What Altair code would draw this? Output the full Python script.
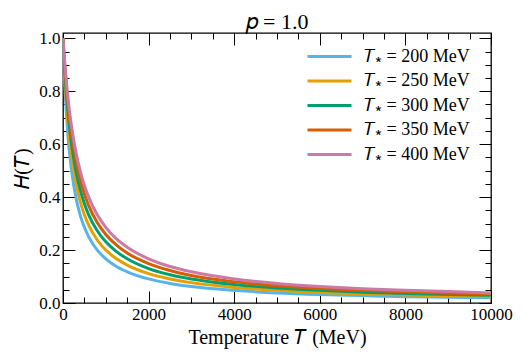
import altair as alt
import pandas as pd

# ---- data ----
temperature = [0, 25, 50, 100, 150, 200, 300, 400, 500, 600, 800, 1000, 1250,
               1500, 2000, 2500, 3000, 4000, 5000, 6000, 7000, 8000, 9000, 10000]
h_200 = [1.0, 0.889, 0.800, 0.667, 0.571, 0.500, 0.400, 0.333, 0.286, 0.250, 0.200, 0.167,
         0.138, 0.118, 0.091, 0.074, 0.0625, 0.048, 0.038, 0.032, 0.028, 0.024, 0.022, 0.0196]
h_250 = [1.0, 0.909, 0.833, 0.714, 0.625, 0.556, 0.455, 0.385, 0.333, 0.294, 0.238, 0.200,
         0.167, 0.143, 0.111, 0.091, 0.077, 0.059, 0.048, 0.040, 0.034, 0.030, 0.027, 0.024]
h_300 = [1.0, 0.923, 0.857, 0.750, 0.667, 0.600, 0.500, 0.429, 0.375, 0.333, 0.273, 0.231,
         0.194, 0.167, 0.130, 0.107, 0.091, 0.070, 0.057, 0.048, 0.041, 0.036, 0.032, 0.029]
h_350 = [1.0, 0.933, 0.875, 0.778, 0.700, 0.636, 0.538, 0.467, 0.412, 0.368, 0.304, 0.259,
         0.219, 0.189, 0.149, 0.123, 0.104, 0.080, 0.065, 0.055, 0.048, 0.042, 0.037, 0.034]
h_400 = [1.0, 0.941, 0.889, 0.800, 0.727, 0.667, 0.571, 0.500, 0.444, 0.400, 0.333, 0.286,
         0.242, 0.211, 0.167, 0.138, 0.118, 0.091, 0.074, 0.0625, 0.054, 0.048, 0.043, 0.038]

series_labels = ["𝑇⁎ = 200 MeV", "𝑇⁎ = 250 MeV", "𝑇⁎ = 300 MeV",
                 "𝑇⁎ = 350 MeV", "𝑇⁎ = 400 MeV"]
series_values = [h_200, h_250, h_300, h_350, h_400]
colors = ["#56B4E9", "#E69F00", "#009E73", "#D55E00", "#CC79A7"]

x_major = [0, 2000, 4000, 6000, 8000, 10000]
x_minor = list(range(0, 10001, 500))
y_major = [0.0, 0.2, 0.4, 0.6, 0.8, 1.0]
y_minor = [round(i * 0.05, 2) for i in range(21)]

rows = []
for lab, vals in zip(series_labels, series_values):
    for t, h in zip(temperature, vals):
        rows.append({"T": t, "H": h, "series": lab})
df = pd.DataFrame(rows)

FONT = "Liberation Serif"
W, H = 428, 270
xscale = alt.Scale(domain=[0, 10000], nice=False, zero=False)
yscale = alt.Scale(domain=[0, 1.02], nice=False, zero=False)

lines = alt.Chart(df).mark_line(strokeWidth=3, interpolate="monotone", clip=True).encode(
    x=alt.X("T:Q", scale=xscale,
            axis=alt.Axis(title="Temperature 𝑇 (MeV)", values=x_major, format="d",
                          tickSize=0, domain=False, grid=False, labelPadding=3,
                          titlePadding=5, labelFontSize=17, titleFontSize=20,
                          labelFont=FONT, titleFont=FONT, titleFontWeight="normal",
                          labelColor="black", titleColor="black", labelFlush=False)),
    y=alt.Y("H:Q", scale=yscale,
            axis=alt.Axis(title="𝐻(𝑇)", values=y_major, format=".1f",
                          tickSize=0, domain=False, grid=False, labelPadding=3,
                          titlePadding=6, labelFontSize=17, titleFontSize=20,
                          labelFont=FONT, titleFont=FONT, titleFontWeight="normal",
                          labelColor="black", titleColor="black", labelFlush=False)),
    color=alt.Color("series:N", sort=series_labels,
                    scale=alt.Scale(domain=series_labels, range=colors),
                    legend=alt.Legend(title=None, orient="none", legendX=254, legendY=11,
                                      symbolType="M-2,0H2", symbolSize=484,
                                      symbolStrokeWidth=3, labelFontSize=18,
                                      labelFont=FONT, labelColor="black",
                                      labelOffset=22, rowPadding=2.5)),
)


def tick_layer(x_orient, y_orient, xvals, yvals, size):
    return alt.Chart(df).mark_point(opacity=0).encode(
        x=alt.X("T:Q", scale=xscale,
                axis=alt.Axis(orient=x_orient, offset=-H, values=xvals, tickSize=size,
                              labels=False, domain=False, grid=False, title=None,
                              tickColor="black", tickWidth=1)),
        y=alt.Y("H:Q", scale=yscale,
                axis=alt.Axis(orient=y_orient, offset=-W, values=yvals, tickSize=size,
                              labels=False, domain=False, grid=False, title=None,
                              tickColor="black", tickWidth=1)),
    )


chart = alt.layer(
    lines,
    tick_layer("top", "right", x_major, y_major, 12),
    tick_layer("top", "right", x_minor, y_minor, 6),
    tick_layer("bottom", "left", x_major, y_major, 12),
    tick_layer("bottom", "left", x_minor, y_minor, 6),
).resolve_axis(x="independent", y="independent").properties(
    width=W, height=H,
    title=alt.TitleParams("𝑝 = 1.0", font=FONT, fontSize=22, fontWeight="normal",
                          color="black", anchor="middle", offset=5, dy=10),
    autosize=alt.AutoSizeParams(type="none"),
    padding={"left": 55, "top": 25, "right": 31, "bottom": 50},
).configure_view(stroke="black", strokeWidth=1.3)

chart.save("out.html", embed_options={"renderer": "svg", "actions": False})
